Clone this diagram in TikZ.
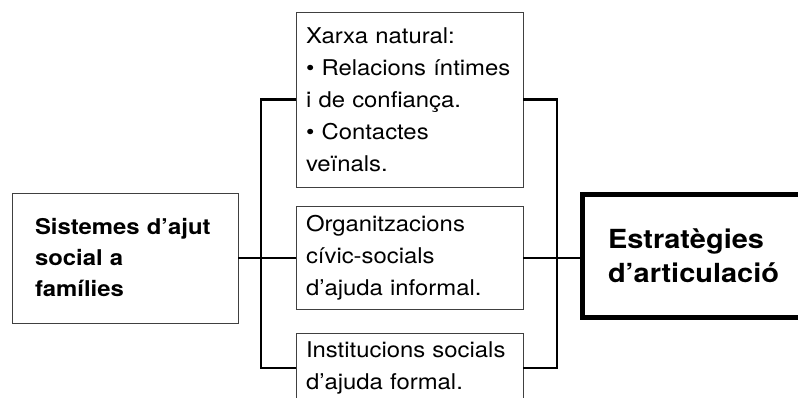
\documentclass[tikz,border=0pt]{standalone}
\usepackage{fontspec}
\setmainfont{TeX Gyre Heros}[FakeStretch=1.1]
\begin{document}
\begin{tikzpicture}[x=1pt,y=-1pt,
  box/.style={draw=black!75, line width=0.9pt, rectangle, inner ysep=0pt, outer sep=0pt, align=left},
  plain/.style={font=\fontsize{21.7}{32}\selectfont},
  link/.style={line width=2.4pt}
]
\useasboundingbox (0,0) rectangle (798,398);
\clip (0,0) rectangle (798,398);
\node[box, plain, inner xsep=10pt, minimum width=227pt, text width=207pt, minimum height=175pt] (T) at (409.5,99.5)
  {Xarxa natural:\\ \textbullet{} Relacions íntimes\\ i de confiança.\\ \textbullet{} Contactes\\ veïnals.};
\node[box, plain, inner xsep=10pt, minimum width=227pt, text width=207pt, minimum height=103pt] (M) at (409.5,258)
  {Organitzacions\\ cívic-socials\\ d’ajuda informal.};
\node[box, plain, inner xsep=10pt, minimum width=227pt, text width=207pt, minimum height=70pt] (B) at (409.5,368)
  {Institucions socials\\ d’ajuda formal.};
\node[box, inner xsep=23pt, minimum width=226pt, text width=180pt, minimum height=130pt, font=\fontsize{21.7}{31}\selectfont\bfseries] (L) at (125,258)
  {Sistemes d’ajut\\ social a\\ famílies};
\node[box, draw=black, line width=5pt, inner xsep=26pt, minimum width=268pt, text width=216pt, minimum height=122pt, font=\fontsize{26.3}{34}\selectfont\bfseries] (R) at (716,256)
  {Estratègies\\ d’articulació};
\coordinate (jl) at (261,258);
\coordinate (jr) at (557,258);
\draw[link] (T.west) -| (jl) |- (B.west);
\draw[link] (L.east) -- (M.west);
\draw[link] (T.east) -| (jr) |- (B.east);
\draw[link] (M.east) -- (M.east -| R.west);
\end{tikzpicture}
\end{document}
